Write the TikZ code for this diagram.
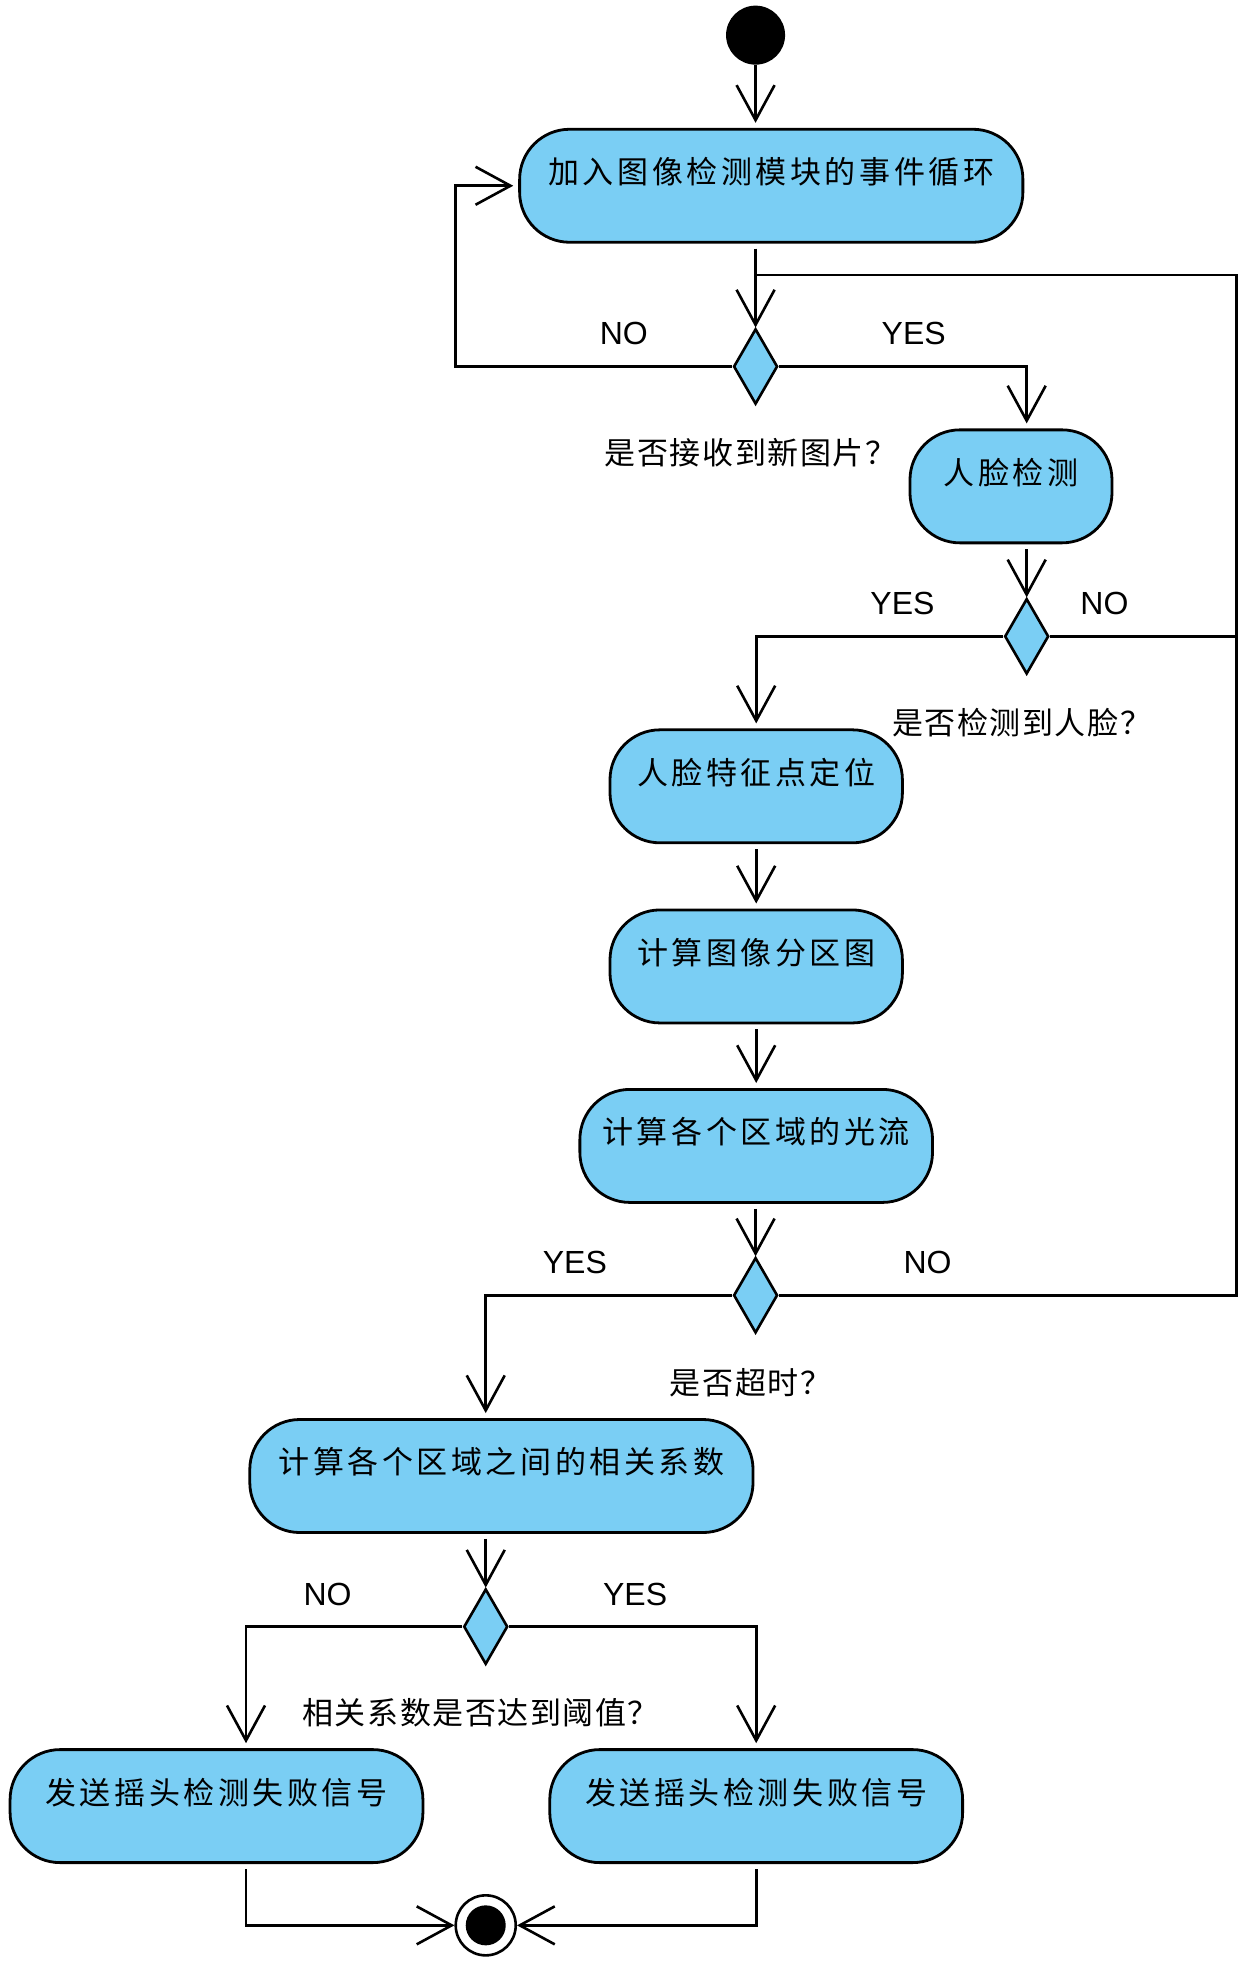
\documentclass[tikz,border=0pt]{standalone}
\usepackage{fontspec}
\setmainfont{Liberation Sans}
\newfontfamily\cjk{Noto Sans CJK SC}[LetterSpace=5]
\newfontfamily\cjkwide{Noto Sans CJK SC}[LetterSpace=11.5]
\usepackage{xcolor}
\usepackage{tikz}
\usetikzlibrary{arrows.meta,shapes.geometric}

\definecolor{actblue}{RGB}{122,206,244}

\tikzset{
  act/.style={draw,line width=1.4pt,fill=actblue,rounded corners=25pt,
    minimum height=56.5pt,inner xsep=0pt,inner ysep=0pt,
    text height=27.2pt,text depth=29.3pt,
    font=\cjkwide\fontsize{15.5}{16}\selectfont},
  choice/.style={draw,diamond,line width=1.3pt,fill=actblue,
    minimum width=22pt,minimum height=37.7pt,inner sep=0pt},
  trans/.style={->,line width=1.3pt},
  link/.style={line width=1.3pt},
  guard/.style={font=\fontsize{16}{16}\selectfont},
  ask/.style={font=\cjk\fontsize{15.5}{16}\selectfont},
}

\begin{document}
\begin{tikzpicture}[x=0.6275pt,y=0.6275pt,>={Straight Barb[length=17.5pt,width=19pt]}]
\useasboundingbox (0,0) rectangle (994,-1568);

% start and end
\node[circle,fill=black,minimum size=29.5pt,inner sep=0pt] (start) at (602,-28) {};
\node[circle,draw,line width=1.3pt,fill=white,minimum size=30pt,inner sep=0pt] (end) at (387,-1534) {};
\node[circle,fill=black,minimum size=20pt,inner sep=0pt] (endcore) at (end) {};

% activities
\node[act,minimum width=251.6pt] (loop) at (614.5,-148) {加入图像检测模块的事件循环};
\node[act,minimum width=101pt] (face) at (805.5,-387.5) {人脸检测};
\node[act,minimum width=146.2pt] (feat) at (602.5,-626.5) {人脸特征点定位};
\node[act,minimum width=146.2pt] (part) at (602.5,-770) {计算图像分区图};
\node[act,minimum width=176.3pt] (optflow) at (602.5,-913) {计算各个区域的光流};
\node[act,minimum width=251.6pt] (corr) at (399.5,-1176) {计算各个区域之间的相关系数};
\node[act,minimum width=206.4pt] (fail) at (172.5,-1439) {发送摇头检测失败信号};
\node[act,minimum width=206.4pt] (send) at (602.5,-1439) {发送摇头检测失败信号};

% decisions
\node[choice] (d1) at (602,-292) {};
\node[choice] (d2) at (818,-507) {};
\node[choice] (d3) at (602,-1032) {};
\node[choice] (d4) at (387,-1296) {};

\coordinate (back) at (363,-292);
\coordinate (railtop) at (985,-219);
\coordinate (nodrop) at (196,-1296);

% guards and questions
\node[guard] (no1) at (497,-266) {NO};
\node[guard] (yes1) at (728,-266) {YES};
\node[ask] (q1) at (598,-361) {是否接收到新图片？};
\node[guard] (yes2) at (719,-481) {YES};
\node[guard] (no2) at (880,-481) {NO};
\node[ask] (q2) at (814,-576) {是否检测到人脸？};
\node[guard] (yes3) at (458,-1006) {YES};
\node[guard] (no3) at (739,-1006) {NO};
\node[ask] (q3) at (598,-1102) {是否超时？};
\node[guard] (no4) at (261,-1270) {NO};
\node[guard] (yes4) at (506,-1270) {YES};
\node[ask] (q4) at (383,-1365) {相关系数是否达到阈值？};

% transitions
\draw[trans,shorten >=2.5pt] (start.south) -- (loop.north -| start);
\draw[trans,shorten <=2.5pt] (loop.south -| d1) -- (d1.north);
\draw[trans,shorten >=2.5pt] (d1.west) -- (back) |- (loop.west);
\draw[trans,shorten >=2.5pt] (d1.east) -| (face.north -| d2);
\draw[trans,shorten <=2.5pt] (face.south -| d2) -- (d2.north);
\draw[trans,shorten >=2.5pt] (d2.west) -| (feat.north);
\draw[link] (d2.east) -- (d2.east -| railtop);
\draw[link] (d3.east) -| (railtop) -- (d1 |- railtop);
\draw[trans,shorten <=2.5pt,shorten >=2.5pt] (feat.south) -- (part.north);
\draw[trans,shorten <=2.5pt,shorten >=2.5pt] (part.south) -- (optflow.north);
\draw[trans,shorten <=2.5pt] (optflow.south -| d3) -- (d3.north);
\draw[trans,shorten >=2.5pt] (d3.west) -| (corr.north -| d4);
\draw[trans,shorten <=2.5pt] (corr.south -| d4) -- (d4.north);
\draw[trans,shorten >=2.5pt] (d4.west) -- (nodrop) -- (nodrop |- fail.north);
\draw[trans,shorten >=2.5pt] (d4.east) -| (send.north);
\draw[trans,shorten <=2.5pt] (fail.south -| nodrop) |- (end.west);
\draw[trans,shorten <=2.5pt] (send.south) |- (end.east);
\end{tikzpicture}
\end{document}
